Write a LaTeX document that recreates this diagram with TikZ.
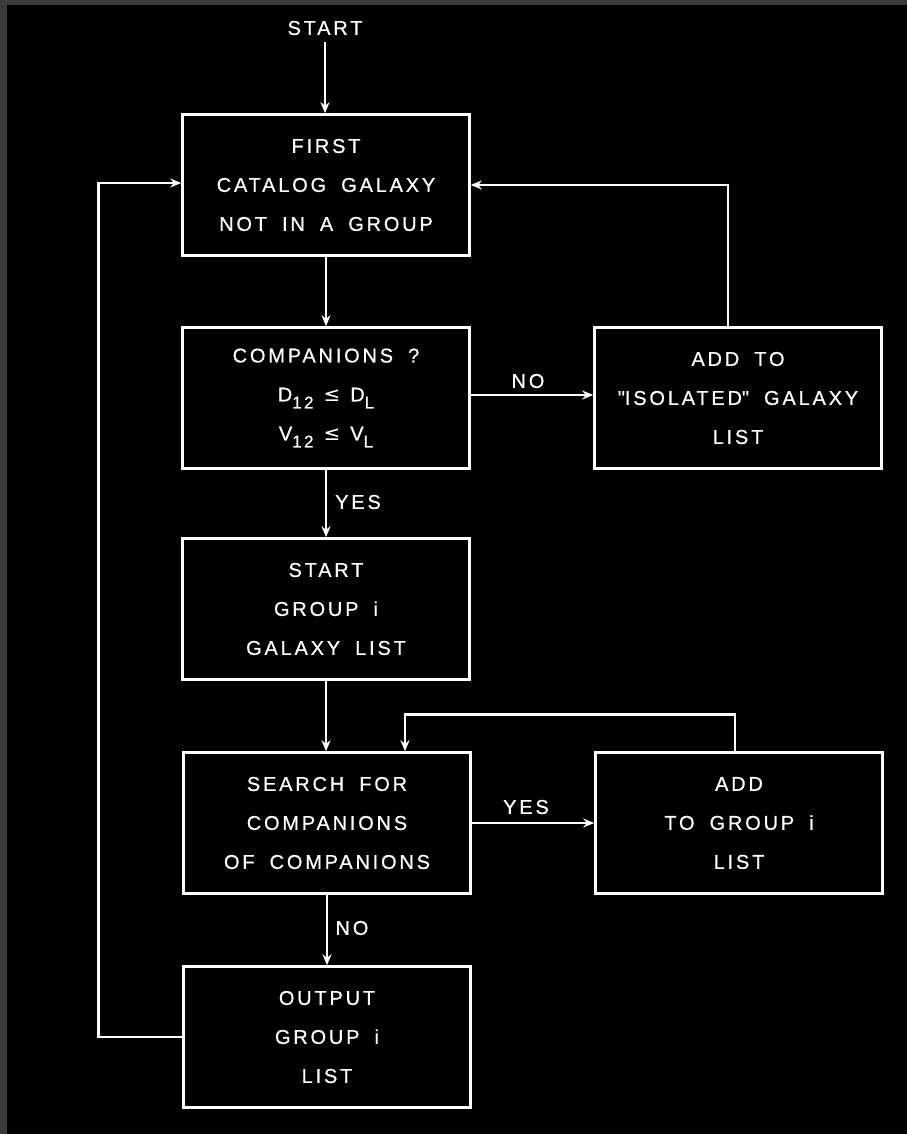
\documentclass[tikz,border=0pt]{standalone}
\usepackage{fontspec}
\setmainfont{Liberation Sans}[LetterSpace=14, WordSpace=1.8, FakeBold=0.6]
\newfontfamily\symf{DejaVu Sans}
\usetikzlibrary{arrows.meta}
\definecolor{framegray}{HTML}{3A3A3A}
\newcommand{\lowsub}[1]{\raisebox{-7pt}{\fontsize{17}{17}\selectfont #1}}
\newcommand{\leqsym}{\hspace*{10pt}{\symf ≤}\hspace*{10pt}}
\begin{document}
\begin{tikzpicture}[x=1pt,y=-1pt,
  box/.style={draw=white, line width=2.6pt, minimum width=287pt, minimum height=141pt,
              align=center, text=white, font=\fontsize{20}{39}\selectfont, inner sep=0pt},
  lbl/.style={text=white, font=\fontsize{20}{22}\selectfont, inner sep=0pt},
  conn/.style={draw=white, line width=2.6pt, -{Stealth[length=11pt,width=9pt]}}]
\fill[framegray] (0,0) rectangle (907,1134);
\fill[black] (7,5) rectangle (907,1134);
\useasboundingbox (0,0) rectangle (907,1134);

\node[lbl] (start) at (325,28) {START};
\node[box] (b1) at (326,185) {FIRST\\CATALOG GALAXY\\NOT IN A GROUP};
\node[box] (b2) at (326,398) {COMPANIONS ?\\D\lowsub{12}\leqsym D\lowsub{L}\\V\lowsub{12}\leqsym V\lowsub{L}};
\node[box] (iso) at (738,398) {ADD TO\\\textquotedbl ISOLATED\textquotedbl\ GALAXY\\LIST};
\node[box] (b3) at (326,609) {START\\GROUP i\\GALAXY LIST};
\node[box] (b4) at (327,823) {SEARCH FOR\\COMPANIONS\\OF COMPANIONS};
\node[box] (add) at (739,823) {ADD\\TO GROUP i\\LIST};
\node[box] (b5) at (327,1037) {OUTPUT\\GROUP i\\LIST};

\node[lbl] (no1) at (528,381) {NO};
\node[lbl] (yes1) at (358,502) {YES};
\node[lbl] (yes2) at (526,807) {YES};
\node[lbl] (no2) at (352,928) {NO};

\draw[conn] ([yshift=-14pt]start.center) -- (start.center |- b1.north);
\draw[conn] (b1) -- (b2);
\draw[conn] ([yshift=3pt]b2.east) -- ([yshift=3pt]iso.west);
\draw[conn] (b2) -- (b3);
\draw[conn] (b3) -- (b3 |- b4.north);
\draw[conn] (b4) -- (add);
\draw[conn] (b4) -- (b4 |- b5.north);
\draw[conn] ([xshift=-4pt]add.north) -- ++(0,-37) -| ([xshift=78pt]b4.north);
\draw[conn] ([xshift=-10pt]iso.north) |- (b1.east);
\draw[conn] (b5.west) -- ++(-84,0) |- ([yshift=2pt]b1.west);
\end{tikzpicture}
\end{document}
